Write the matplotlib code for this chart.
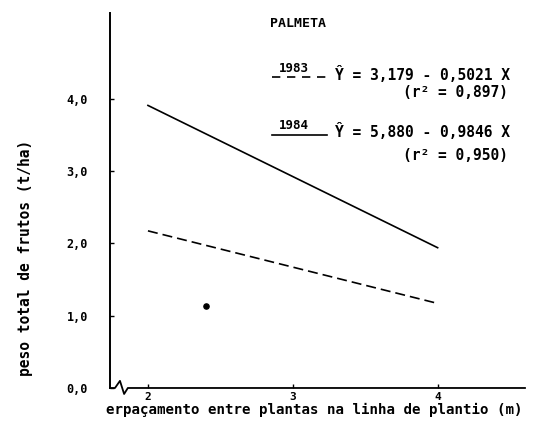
import matplotlib
matplotlib.use("Agg")
import matplotlib.pyplot as plt
import numpy as np

# regression data
anos = ["1983", "1984"]
intercepto = [3.179, 5.880]
inclinacao = [-0.5021, -0.9846]
r2 = ["0,897", "0,950"]
estilos = [(0, (6, 3)), "-"]
estilos_leg = [(0, (5, 4)), "-"]
x_fit = [2.0, 4.0]

# single observed point
ponto_x = [2.40]
ponto_y = [1.14]

xticks = [2, 3, 4]
yticks = [0, 1, 2, 3, 4]
ytick_labels = ["0,0", "1,0", "2,0", "3,0", "4,0"]

mono = "DejaVu Sans Mono"

fig = plt.figure(figsize=(5.57, 4.22), dpi=100)
ax = fig.add_axes([0.1975, 0.0806, 0.745, 0.8886])

for a, b, ls in zip(intercepto, inclinacao, estilos):
    xs = np.array(x_fit)
    ax.plot(xs, a + b * xs, color="black", lw=1.2, linestyle=ls)

ax.scatter(ponto_x, ponto_y, s=14, color="black", zorder=3)

ax.set_xlim(1.738, 4.603)
ax.set_ylim(0, 5.19)

ax.spines["top"].set_visible(False)
ax.spines["right"].set_visible(False)
ax.spines["bottom"].set_visible(False)
ax.spines["left"].set_linewidth(1.4)

# x axis with break mark
bx = [0, 0.012, 0.024, 0.034, 0.043, 1.0]
by = [0, 0, 0.019, -0.016, 0, 0]
ax.plot(bx, by, color="black", lw=1.3, transform=ax.transAxes, clip_on=False)

ax.set_xticks(xticks)
ax.set_xticklabels([str(t) for t in xticks], family=mono, weight="bold", fontsize=8)
ax.set_yticks(yticks)
ax.set_yticklabels(ytick_labels, family=mono, weight="bold", fontsize=8.5)
ax.tick_params(axis="x", direction="in", length=3, width=1, pad=3)
ax.tick_params(axis="y", direction="in", length=3, width=1, pad=16)

fig.text(0.565, 0.028, "erpaçamento entre plantas na linha de plantio (m)",
         ha="center", va="center", family=mono, weight="bold", fontsize=10.2)
fig.text(0.045, 0.389, "peso total de frutos (t/ha)", rotation=90,
         ha="center", va="center", family=mono, weight="bold", fontsize=10.5)

ax.text(0.386, 0.973, "PALMETA", transform=ax.transAxes, ha="left", va="center",
        family=mono, weight="bold", fontsize=9.5)

# legend drawn by hand
leg_y = [0.829, 0.675]
txt_y = [0.851, 0.701]
eq_y = [0.835, 0.683]
r2_y = [0.787, 0.621]
for i in range(2):
    ax.plot([0.390, 0.523], [leg_y[i], leg_y[i]], color="black", lw=1.2,
            linestyle=estilos_leg[i], transform=ax.transAxes, clip_on=False)
    ax.text(0.442, txt_y[i], anos[i], transform=ax.transAxes, ha="center", va="center",
            family=mono, weight="bold", fontsize=9)
    eq = "Ŷ = %s - %s X" % (("%.3f" % intercepto[i]).replace(".", ","),
                            ("%.4f" % -inclinacao[i]).replace(".", ","))
    ax.text(0.542, eq_y[i], eq, transform=ax.transAxes, ha="left", va="center",
            family=mono, weight="bold", fontsize=10.5)
    ax.text(0.706, r2_y[i], "(r² = %s)" % r2[i], transform=ax.transAxes,
            ha="left", va="center", family=mono, weight="bold", fontsize=10.5)

fig.savefig("out.png", dpi=100)
